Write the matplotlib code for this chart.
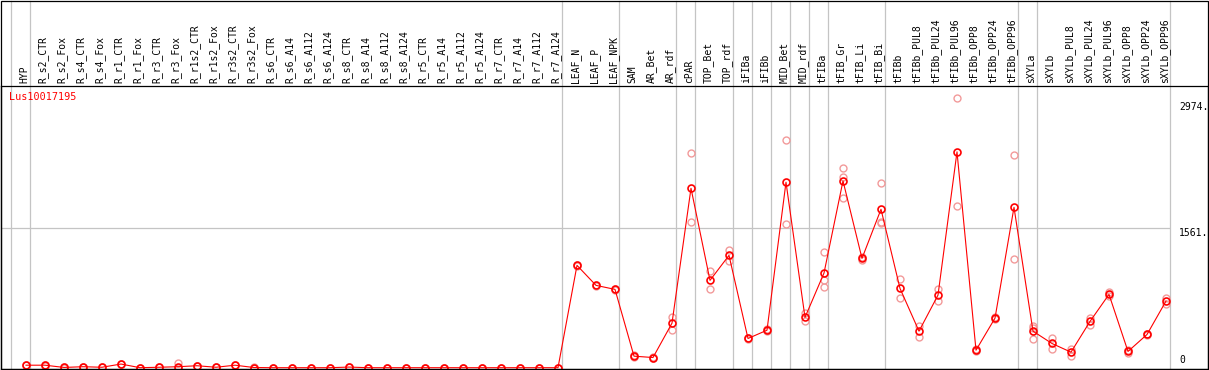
import numpy as np
import matplotlib
matplotlib.use('Agg')
import matplotlib.pyplot as plt
import matplotlib.transforms as mtransforms

W, H = 1209, 370
DPI = 100

gene = 'Lus10017195'

labels = ['HYP', 'R_s2_CTR', 'R_s2_Fox', 'R_s4_CTR', 'R_s4_Fox', 'R_r1_CTR', 'R_r1_Fox',
          'R_r3_CTR', 'R_r3_Fox', 'R_r1s2_CTR', 'R_r1s2_Fox', 'R_r3s2_CTR', 'R_r3s2_Fox',
          'R_s6_CTR', 'R_s6_A14', 'R_s6_A112', 'R_s6_A124', 'R_s8_CTR', 'R_s8_A14',
          'R_s8_A112', 'R_s8_A124', 'R_r5_CTR', 'R_r5_A14', 'R_r5_A112', 'R_r5_A124',
          'R_r7_CTR', 'R_r7_A14', 'R_r7_A112', 'R_r7_A124', 'LEAF_N', 'LEAF_P', 'LEAF_NPK',
          'SAM', 'AR_Bet', 'AR_rdf', 'cPAR', 'TOP_Bet', 'TOP_rdf', 'iFIBa', 'iFIBb',
          'MID_Bet', 'MID_rdf', 'tFIBa', 'tFIB_Gr', 'tFIB_Li', 'tFIB_Bi', 'tFIBb',
          'tFIBb_PUL8', 'tFIBb_PUL24', 'tFIBb_PUL96', 'tFIBb_OPP8', 'tFIBb_OPP24',
          'tFIBb_OPP96', 'sXYLa', 'sXYLb', 'sXYLb_PUL8', 'sXYLb_PUL24', 'sXYLb_PUL96',
          'sXYLb_OPP8', 'sXYLb_OPP24', 'sXYLb_OPP96']

# mean expression per sample
means = [28, 28, 3, 11, 5, 41, 0, 5, 11, 22, 5, 28, 2, 0, 0,
         0, 0, 7, 0, 0, 0, 0, 0, 0, 0, 0, 0, 0, 0,
         1146, 922, 877, 129, 114, 499, 2009, 978, 1258, 327, 420, 2077, 563,
         1060, 2092, 1224, 1774,
         888, 409, 813, 2417, 196, 555, 1796,
         409, 271, 174, 518, 821, 182, 372, 746]

# replicates
nan = np.nan
rep_a = [30, 32, 5, 12, 6, 45, 0, 6, 49, 24, 6, 30, 3, 0, 0,
         0, 0, 8, 0, 0, 0, 0, 0, 0, 0, 0, 0, 0, 0,
         1150, 925, 880, 140, 117, 566, 2405, 1082, 1318, 335, 430, 2548, 608,
         1292, 2234, 1240, 2069,
         989, 469, 877, 3019, 205, 570, 2380,
         469, 334, 211, 559, 843, 195, 380, 783]
rep_b = [25, 24, 1, 10, 4, 38, 0, 4, 0, 20, 4, 26, 1, 0, 0,
         0, 0, 6, 0, 0, 0, 0, 0, 0, 0, 0, 0, 0, 0,
         1142, 919, 874, 118, 111, 424, 1628, 880, 1191, 320, 410, 1606, 521,
         985, 2133, 1210, 1635,
         776, 346, 749, 1811, 188, 545, 1213,
         440, 211, 129, 473, 800, 168, 365, 709]
rep_c = [nan] * len(labels)
rep_c[42] = 899
rep_c[43] = 1897
rep_c[45] = 1617
rep_c[53] = 320

# last column of each group (gray separators)
group_ends = [-1, 0, 28, 31, 34, 35, 37, 38, 39, 40, 41, 42, 45, 52, 53, 60]
ref_levels = [2974, 1561, 0]

mono = 'DejaVu Sans Mono'

fig = plt.figure(figsize=(W / DPI, H / DPI), dpi=DPI)
# plot area: pixels x 1..1208, y (from top) 85.7..369
ax = fig.add_axes([1 / W, 1 / H, 1207 / W, (369 - 85.7) / H])
ax_h = 369 - 85.7
ax.set_xlim((1 - 26) / 19, (1208 - 26) / 19)
ax.set_ylim((367.7 - 369) / 0.0893, (367.7 - 85.7) / 0.0893)
ax.set_xticks([])
ax.set_yticks([])
for s in ax.spines.values():
    s.set_linewidth(0.9)
    s.set_color('black')

# outer frame
fig.add_artist(plt.Rectangle((1 / W, 1 / H), 1207 / W, 368 / H, transform=fig.transFigure,
                             fill=False, ec='black', lw=0.9))

sep = 0.22
for g in group_ends:
    ax.axvline(g + sep, ymin=0, ymax=368 / ax_h, color='#c4c4c4', lw=0.9,
               clip_on=False, zorder=1)
ax.hlines(1561, ax.get_xlim()[0], group_ends[-1] + sep, color='#c4c4c4', lw=0.9, zorder=1)

x = np.arange(len(labels))
for rep in (rep_a, rep_b, rep_c):
    ax.plot(x, rep, 'o', ls='none', mfc='none', mec='#f29a9a', ms=5, mew=1.0, zorder=2)
ax.plot(x, means, '-', color='red', lw=0.8, marker='o', mfc='none', mec='red',
        ms=5, mew=1.2, zorder=3)

# header labels
trans = mtransforms.blended_transform_factory(ax.transData, ax.transAxes)
for i, lab in enumerate(labels):
    ax.text(i - 0.09, 1 + 2.5 / ax_h, lab, rotation=90, ha='center', va='bottom',
            transform=trans, fontsize=7, family=mono, color='black')

ax.text(8.3 / 1207, 1 - 11.6 / ax_h, gene, transform=ax.transAxes, color='red',
        ha='left', va='center', fontsize=7.3, family=mono)

xl = (1179 - 26) / 19
for lv in ref_levels:
    if lv == 0:
        ax.text(xl, lv + 25, '0', ha='left', va='bottom', fontsize=7, family=mono)
    else:
        ax.text(xl, lv, '%d.' % lv, ha='left', va='top', fontsize=7, family=mono)

fig.savefig('out.png', dpi=DPI)
